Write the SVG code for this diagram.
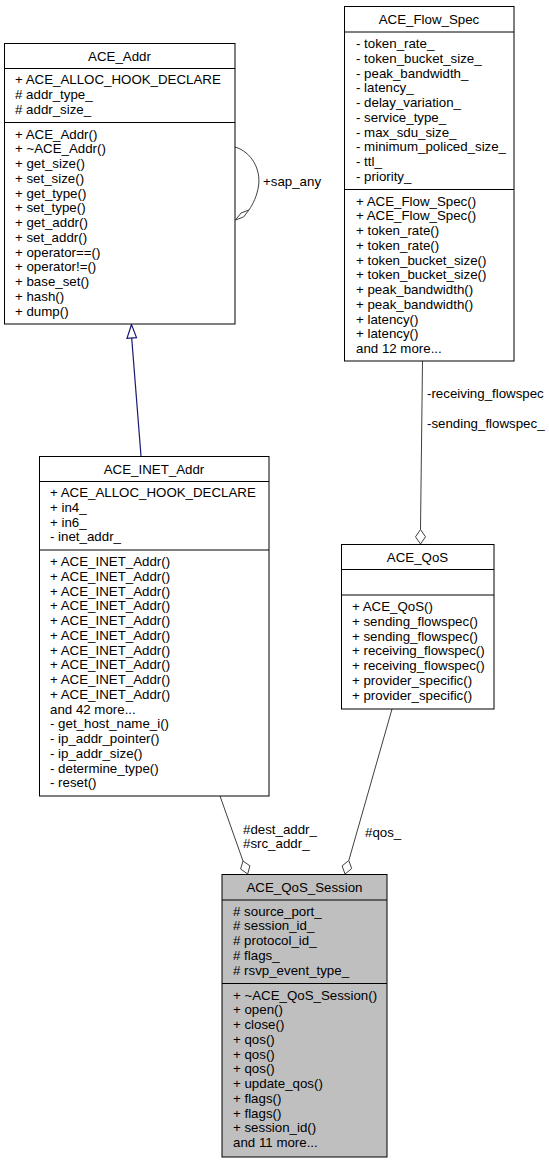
<svg xmlns="http://www.w3.org/2000/svg" width="549" height="1163" viewBox="0 0 549 1163">
<style>
text{font-family:"Liberation Sans",Arial,sans-serif;font-size:13.3px;fill:#000}
.t{text-anchor:middle}
.box{fill:#fff;stroke:#000;stroke-width:1}
.cur{fill:#bfbfbf;stroke:#000;stroke-width:1}
.sep{stroke:#000;stroke-width:1}
.agg{fill:none;stroke:#404040;stroke-width:1}
.dia{fill:#fff;stroke:#404040;stroke-width:1}
.inh{fill:none;stroke:#191970;stroke-width:1.2}
.tri{fill:#fff;stroke:#191970;stroke-width:1.2}
</style>
<rect width="549" height="1163" fill="#fff"/>
<g id="connectors">
  <path class="inh" d="M141,456 L131.7,338"/>
  <polygon class="tri" points="131.5,324.5 127,338.3 136.5,337.6"/>
  <path class="agg" d="M235,147 C252,152 261,170 258.5,186 C257,196 253,204 249,210"/>
  <polygon class="dia" points="235.5,220 241,213 249,210 243.5,217"/>
  <text x="263" y="186">+sap_any</text>
  <path class="agg" d="M422.5,361 L420.5,529.5"/>
  <polygon class="dia" points="420.5,529.5 415.5,536.8 420.5,544 425.5,536.8"/>
  <text x="427" y="397.5">-receiving_flowspec</text>
  <text x="427" y="427.5">-sending_flowspec_</text>
  <path class="agg" d="M220,796 L243,861"/>
  <polygon class="dia" points="247.7,874 249.9,865.8 243,861 240.6,869"/>
  <text x="243" y="834">#dest_addr_</text>
  <text x="243" y="848">#src_addr_</text>
  <path class="agg" d="M392,709 L348.8,860.5"/>
  <polygon class="dia" points="345,874 351.7,868.6 348.8,860.5 342.1,865.9"/>
  <text x="365" y="837">#qos_</text>
</g>
<g id="ACE_Addr">
  <rect class="box" x="4.5" y="43.5" width="230.5" height="280.5"/>
  <line class="sep" x1="4.5" y1="68.5" x2="235" y2="68.5"/>
  <line class="sep" x1="4.5" y1="122.5" x2="235" y2="122.5"/>
  <text class="t" x="119.5" y="60.5">ACE_Addr</text>
  <text x="15" y="84">+ ACE_ALLOC_HOOK_DECLARE</text>
  <text x="15" y="98.75"># addr_type_</text>
  <text x="15" y="113.5"># addr_size_</text>
  <text x="15" y="138.5">+ ACE_Addr()</text>
  <text x="15" y="153.25">+ ~ACE_Addr()</text>
  <text x="15" y="168">+ get_size()</text>
  <text x="15" y="182.75">+ set_size()</text>
  <text x="15" y="197.5">+ get_type()</text>
  <text x="15" y="212.25">+ set_type()</text>
  <text x="15" y="227">+ get_addr()</text>
  <text x="15" y="241.75">+ set_addr()</text>
  <text x="15" y="256.5">+ operator==()</text>
  <text x="15" y="271.25">+ operator!=()</text>
  <text x="15" y="286">+ base_set()</text>
  <text x="15" y="300.75">+ hash()</text>
  <text x="15" y="315.5">+ dump()</text>
</g>
<g id="ACE_Flow_Spec">
  <rect class="box" x="344.5" y="6.5" width="169.5" height="354.5"/>
  <line class="sep" x1="344.5" y1="32" x2="514" y2="32"/>
  <line class="sep" x1="344.5" y1="189.5" x2="514" y2="189.5"/>
  <text class="t" x="429" y="23.5">ACE_Flow_Spec</text>
  <text x="356" y="48">- token_rate_</text>
  <text x="356" y="62.75">- token_bucket_size_</text>
  <text x="356" y="77.5">- peak_bandwidth_</text>
  <text x="356" y="92.25">- latency_</text>
  <text x="356" y="107">- delay_variation_</text>
  <text x="356" y="121.75">- service_type_</text>
  <text x="356" y="136.5">- max_sdu_size_</text>
  <text x="356" y="151.25">- minimum_policed_size_</text>
  <text x="356" y="166">- ttl_</text>
  <text x="356" y="180.75">- priority_</text>
  <text x="356" y="205.5">+ ACE_Flow_Spec()</text>
  <text x="356" y="220.25">+ ACE_Flow_Spec()</text>
  <text x="356" y="235">+ token_rate()</text>
  <text x="356" y="249.75">+ token_rate()</text>
  <text x="356" y="264.5">+ token_bucket_size()</text>
  <text x="356" y="279.25">+ token_bucket_size()</text>
  <text x="356" y="294">+ peak_bandwidth()</text>
  <text x="356" y="308.75">+ peak_bandwidth()</text>
  <text x="356" y="323.5">+ latency()</text>
  <text x="356" y="338.25">+ latency()</text>
  <text x="356" y="353">and 12 more...</text>
</g>
<g id="ACE_INET_Addr">
  <rect class="box" x="39.5" y="456.5" width="229.5" height="339.5"/>
  <line class="sep" x1="39.5" y1="481.5" x2="269" y2="481.5"/>
  <line class="sep" x1="39.5" y1="550" x2="269" y2="550"/>
  <text class="t" x="154" y="473.5">ACE_INET_Addr</text>
  <text x="50" y="497">+ ACE_ALLOC_HOOK_DECLARE</text>
  <text x="50" y="511.75">+ in4_</text>
  <text x="50" y="526.5">+ in6_</text>
  <text x="50" y="541.25">- inet_addr_</text>
  <text x="50" y="566">+ ACE_INET_Addr()</text>
  <text x="50" y="580.75">+ ACE_INET_Addr()</text>
  <text x="50" y="595.5">+ ACE_INET_Addr()</text>
  <text x="50" y="610.25">+ ACE_INET_Addr()</text>
  <text x="50" y="625">+ ACE_INET_Addr()</text>
  <text x="50" y="639.75">+ ACE_INET_Addr()</text>
  <text x="50" y="654.5">+ ACE_INET_Addr()</text>
  <text x="50" y="669.25">+ ACE_INET_Addr()</text>
  <text x="50" y="684">+ ACE_INET_Addr()</text>
  <text x="50" y="698.75">+ ACE_INET_Addr()</text>
  <text x="50" y="713.5">and 42 more...</text>
  <text x="50" y="728.25">- get_host_name_i()</text>
  <text x="50" y="743">- ip_addr_pointer()</text>
  <text x="50" y="757.75">- ip_addr_size()</text>
  <text x="50" y="772.5">- determine_type()</text>
  <text x="50" y="787.25">- reset()</text>
</g>
<g id="ACE_QoS">
  <rect class="box" x="341.5" y="544.5" width="152.5" height="164.5"/>
  <line class="sep" x1="341.5" y1="569.5" x2="494" y2="569.5"/>
  <line class="sep" x1="341.5" y1="595" x2="494" y2="595"/>
  <text class="t" x="417.5" y="561.5">ACE_QoS</text>
  <text x="352" y="611">+ ACE_QoS()</text>
  <text x="352" y="625.75">+ sending_flowspec()</text>
  <text x="352" y="640.5">+ sending_flowspec()</text>
  <text x="352" y="655.25">+ receiving_flowspec()</text>
  <text x="352" y="670">+ receiving_flowspec()</text>
  <text x="352" y="684.75">+ provider_specific()</text>
  <text x="352" y="699.5">+ provider_specific()</text>
</g>
<g id="ACE_QoS_Session">
  <rect class="cur" x="222" y="874.5" width="165" height="282.5"/>
  <line class="sep" x1="222" y1="900" x2="387" y2="900"/>
  <line class="sep" x1="222" y1="983.5" x2="387" y2="983.5"/>
  <text class="t" x="304.5" y="892">ACE_QoS_Session</text>
  <text x="233" y="915.5"># source_port_</text>
  <text x="233" y="930.25"># session_id_</text>
  <text x="233" y="945"># protocol_id_</text>
  <text x="233" y="959.75"># flags_</text>
  <text x="233" y="974.5"># rsvp_event_type_</text>
  <text x="233" y="999.5">+ ~ACE_QoS_Session()</text>
  <text x="233" y="1014.25">+ open()</text>
  <text x="233" y="1029">+ close()</text>
  <text x="233" y="1043.75">+ qos()</text>
  <text x="233" y="1058.5">+ qos()</text>
  <text x="233" y="1073.25">+ qos()</text>
  <text x="233" y="1088">+ update_qos()</text>
  <text x="233" y="1102.75">+ flags()</text>
  <text x="233" y="1117.5">+ flags()</text>
  <text x="233" y="1132.25">+ session_id()</text>
  <text x="233" y="1147">and 11 more...</text>
</g>
</svg>
